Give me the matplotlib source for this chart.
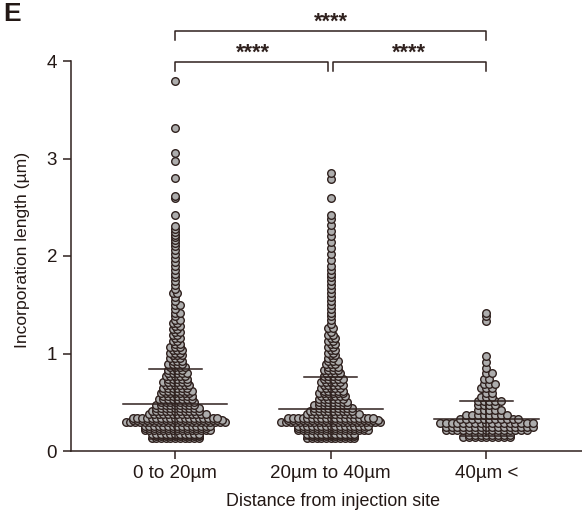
import numpy as np
import matplotlib
matplotlib.use('Agg')
import matplotlib.pyplot as plt

plt.rcParams['font.family'] = ['Liberation Sans', 'DejaVu Sans']

# Data: value level and number of points at that level
categories = ['0 to 20µm', '20µm to 40µm', '40µm <']

levels_a = [0.13, 0.15, 0.17, 0.215, 0.235, 0.255, 0.30, 0.32, 0.34, 0.38, 0.41, 0.44, 0.47, 0.50, 0.53, 0.56,
            0.59, 0.62, 0.65, 0.68, 0.71, 0.74, 0.77, 0.80, 0.83, 0.86, 0.89, 0.92, 0.95, 0.98, 1.01, 1.04,
            1.07, 1.10, 1.13, 1.16, 1.19, 1.22, 1.25, 1.28, 1.31, 1.34, 1.38, 1.42, 1.46, 1.50, 1.54, 1.58,
            1.62, 1.66, 1.70, 1.74, 1.78, 1.82, 1.86, 1.90, 1.94, 1.98, 2.02, 2.06, 2.10, 2.13, 2.16, 2.19,
            2.22, 2.25, 2.28, 2.31, 2.42, 2.60, 2.62, 2.80, 2.97, 3.06, 3.31, 3.79]
counts_a = [11, 10, 11, 15, 14, 15, 22, 20, 19, 13, 11, 10, 9, 8, 8, 7,
            7, 7, 6, 6, 6, 5, 5, 5, 4, 4, 4, 3, 3, 3, 3, 3,
            3, 2, 2, 2, 2, 2, 2, 2, 2, 2, 1, 2, 1, 2, 1, 1,
            2, 1, 1, 1, 1, 1, 1, 1, 1, 1, 1, 1, 1, 1, 1, 1,
            1, 1, 1, 1, 1, 1, 1, 1, 1, 1, 1, 1]

levels_b = [0.13, 0.15, 0.17, 0.215, 0.235, 0.255, 0.30, 0.32, 0.34, 0.38, 0.41, 0.44, 0.47, 0.50, 0.53, 0.56,
            0.59, 0.62, 0.65, 0.68, 0.71, 0.74, 0.77, 0.80, 0.83, 0.86, 0.89, 0.92, 0.95, 0.98, 1.01, 1.04,
            1.07, 1.10, 1.13, 1.16, 1.19, 1.22, 1.26, 1.30, 1.34, 1.38, 1.42, 1.46, 1.50, 1.54, 1.58, 1.62,
            1.66, 1.70, 1.74, 1.78, 1.82, 1.86, 1.90, 1.96, 2.02, 2.08, 2.14, 2.20, 2.26, 2.32, 2.38, 2.42,
            2.60, 2.79, 2.85]
counts_b = [11, 10, 11, 16, 15, 16, 22, 20, 19, 12, 10, 9, 8, 7, 6, 6,
            6, 5, 5, 5, 5, 5, 4, 4, 4, 3, 3, 3, 2, 2, 2, 2,
            2, 2, 2, 2, 2, 1, 2, 1, 1, 1, 1, 1, 1, 1, 1, 1,
            1, 1, 1, 1, 1, 1, 1, 1, 1, 1, 1, 1, 1, 1, 1, 1,
            1, 1, 1]

levels_c = [0.14, 0.16, 0.215, 0.25, 0.29, 0.33, 0.37, 0.42, 0.47, 0.51, 0.55, 0.59, 0.65, 0.69, 0.74, 0.80,
            0.85, 0.91, 0.97, 1.33, 1.38, 1.42]
counts_c = [9, 8, 15, 16, 17, 11, 8, 5, 4, 5, 3, 2, 3, 3, 2, 2,
            1, 1, 1, 1, 1, 1]

# mean and mean +/- SD
means = [0.48, 0.43, 0.33]
upper = [0.84, 0.76, 0.51]
lower = [0.12, 0.12, 0.15]

yticks = [0, 1, 2, 3, 4]
stars = '****'

ink = '#2f211e'
text_color = '#231815'
grey = '#adadad'
W, H = 582, 512

fig = plt.figure(figsize=(W / 100, H / 100), dpi=100)
ax = fig.add_axes([71 / W, (H - 451) / H, (582 - 71) / W, 390 / H])
ax.set_xlim(-0.669, 2.614)
ax.set_ylim(0, 4)
xunit = 1 / 155.5  # data units per pixel


def swarm(pos, levels, counts, spacing):
    # side by side around the centre, every other row shifted half a step
    xs, ys = [], []
    for i, (lv, n) in enumerate(zip(levels, counts)):
        shift = 0.5 * spacing if (i % 2 and n > 1) else 0
        for k in range(n):
            xs.append(pos + ((k - (n - 1) / 2) * spacing + shift) * xunit)
            ys.append(lv)
    return xs, ys


groups = [(levels_a, counts_a), (levels_b, counts_b), (levels_c, counts_c)]
for pos, (lv, ct) in enumerate(groups):
    xs, ys = swarm(pos, lv, ct, 4.7 if pos < 2 else 5.8)
    ax.scatter(xs, ys, s=30, facecolor=grey, edgecolor=ink, linewidth=1.0, zorder=2, clip_on=False)

for pos in range(3):
    ax.plot([pos, pos], [lower[pos], upper[pos]], color=ink, lw=1.1, zorder=3)
    ax.plot([pos - 0.335, pos + 0.335], [means[pos]] * 2, color=ink, lw=1.1, zorder=3)
    ax.plot([pos - 0.17, pos + 0.17], [upper[pos]] * 2, color=ink, lw=1.1, zorder=3)
    ax.plot([pos - 0.17, pos + 0.17], [lower[pos]] * 2, color=ink, lw=1.1, zorder=3)

for side in ['top', 'right']:
    ax.spines[side].set_visible(False)
for side in ['left', 'bottom']:
    ax.spines[side].set_color(ink)
    ax.spines[side].set_linewidth(1.1)

ax.set_xticks(range(3), categories)
ax.set_yticks(yticks)
ax.tick_params(axis='both', length=6, width=1.1, color=ink, labelsize=13.5, labelcolor=text_color, pad=4)
ax.set_xlabel('Distance from injection site', fontsize=12.9, color=text_color, labelpad=8, x=0.513)
ax.set_ylabel('Incorporation length (µm)', fontsize=12.6, color=text_color, labelpad=12, y=0.515)


def bracket(x0, x1, y_top, y_bot):
    ax.plot([x0, x0, x1, x1], [y_bot, y_top, y_top, y_bot], color=ink, lw=1.1, clip_on=False)


bracket(0, 2, 4.31, 4.215)
bracket(0, 0.985, 3.99, 3.895)
bracket(1.015, 2, 3.99, 3.895)
ax.text(1, 4.40, stars, ha='center', va='center', fontsize=15.5, fontweight='bold', color=ink)
ax.text(0.5, 4.08, stars, ha='center', va='center', fontsize=15.5, fontweight='bold', color=ink)
ax.text(1.5, 4.08, stars, ha='center', va='center', fontsize=15.5, fontweight='bold', color=ink)

fig.text(3 / W, 1 - 14 / H, 'E', fontsize=19, fontweight='bold', color=text_color, ha='left', va='center')

fig.savefig('out.png', dpi=100)
